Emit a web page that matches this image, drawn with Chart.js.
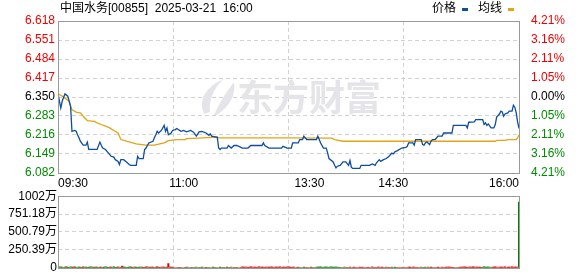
<!DOCTYPE html>
<html>
<head>
<meta charset="utf-8">
<script src="https://cdn.jsdelivr.net/npm/chart.js@4/dist/chart.umd.min.js"></script>
<style>
  html, body { margin: 0; padding: 0; background: #fff; }
  #wrap { position: relative; width: 578px; height: 276px; overflow: hidden;
          font-family: "Liberation Sans", "Noto Sans CJK SC", sans-serif; font-size: 12px; color: #000; }
  #price { position: absolute; left: 0; top: 0; }
  #volume { position: absolute; left: 0; top: 188px; }
  .title { position: absolute; left: 60px; top: 1px; line-height: 14px; white-space: pre; }
  .lg { position: absolute; top: 1px; line-height: 14px; }
  .mk { position: absolute; top: 8px; width: 6px; height: 3px; }
</style>
</head>
<body>
<div id="wrap">
  <canvas id="price" width="578" height="188"></canvas>
  <canvas id="volume" width="578" height="88"></canvas>
  <div class="title">中国水务[00855]  2025-03-21  16:00</div>
  <div class="lg" style="left:432px">价格</div>
  <div class="mk" style="left:462px;background:#0c4da2"></div>
  <div class="lg" style="left:478px">均线</div>
  <div class="mk" style="left:508px;background:#e3a416"></div>
</div>
<script>
// minutes from 09:30 (lunch break removed), 0..330
var priceMin = [0,2,3,5,7,8,9,10,12,13,14,15,16,18,20,21,22,28,30,31,32,34,36,38,40,41,43,44,45,47,49,51,52,56,57,58,61,62,63,65,68,69,70,71,72,74,76,77,78,79,81,82,
    84,85,88,90,92,95,97,99,101,103,106,108,109,110,114,115,116,117,121,122,124,126,128,132,136,138,146,147,148,151,160,161,164,
    167,168,172,173,175,176,178,185,186,187,188,190,192,193,194,197,198,199,200,202,204,206,208,209,210,211,216,217,223,225,227,228,230,231,233,235,237,239,240,241,243,246,249,250,
    251,254,255,256,260,261,262,263,264,266,267,268,270,272,275,276,282,283,292,293,294,298,299,304,305,306,307,308,310,312,313,314,316,317,318,319,320,322,323,325,326,327,328,329,330];
var priceVal = [6.361,6.311,6.335,6.361,6.353,6.335,6.317,6.229,6.232,6.229,6.217,6.206,6.194,6.180,6.180,6.191,6.165,6.165,6.191,6.180,6.170,6.165,6.153,6.141,6.138,6.129,6.123,6.112,6.129,6.129,6.121,6.112,6.109,6.109,6.141,6.133,6.133,6.165,6.170,6.188,6.194,6.206,6.217,6.229,6.223,6.232,6.250,6.229,6.241,6.217,6.223,6.232,
    6.235,6.239,6.229,6.232,6.227,6.232,6.226,6.212,6.227,6.229,6.223,6.215,6.220,6.212,6.208,6.170,6.165,6.170,6.170,6.179,6.170,6.179,6.179,6.170,6.170,6.179,6.179,6.188,6.179,6.170,6.170,6.176,6.170,
    6.170,6.188,6.188,6.200,6.200,6.212,6.200,6.200,6.212,6.200,6.188,6.170,6.170,6.153,6.133,6.121,6.109,6.100,6.106,6.109,6.121,6.121,6.109,6.126,6.102,6.098,6.098,6.109,6.109,6.114,6.109,6.118,6.129,6.123,6.129,6.133,6.141,6.152,6.149,6.156,6.161,6.170,6.172,6.176,
    6.188,6.188,6.180,6.200,6.200,6.182,6.180,6.188,6.192,6.182,6.194,6.200,6.200,6.212,6.212,6.223,6.223,6.250,6.250,6.241,6.261,6.262,6.270,6.270,6.253,6.259,6.250,6.255,6.241,6.241,6.253,6.279,6.290,6.300,6.297,6.282,6.290,6.294,6.300,6.300,6.321,6.314,6.295,6.262,6.239];

var avgMin = [0,3,8,9,10,13,16,18,21,26,28,31,34,37,40,43,45,49,56,63,69,76,79,85,91,92,104,114,115,165,196,198,204,313,314,320,322,328,329,330];
var avgVal = [6.361,6.353,6.335,6.317,6.305,6.297,6.294,6.282,6.267,6.264,6.259,6.253,6.247,6.241,6.232,6.223,6.200,6.194,6.185,6.180,6.180,6.188,6.196,6.200,6.200,6.203,6.206,6.209,6.206,6.206,6.205,6.200,6.194,6.194,6.197,6.197,6.200,6.200,6.206,6.217];

// volume per minute, in 万 shares
var volVal = [
    14,12,9,11,8,10,12,9,8,14, 10,9,12,8,11,9,10,8,12,9, 11,8,10,9,12,8,9,11,10,8,
    9,11,8,10,12,9,8,10,11,9, 12,8,10,9,11,8,25,9,10,8, 11,9,12,8,10,9,11,8,9,10,
    10,8,11,9,12,8,10,9,11,8, 9,12,10,8,11,9,10,8,9,60, 11,9,10,0,0,0,0,8,0,0,
    0,0,9,0,0,8,0,0,0,10, 0,0,0,9,0,0,8,0,0,0, 0,11,0,0,0,0,9,0,0,8,
    0,9,0,0,10,0,0,0,8,0, 0,0,12,10,9,11,8,10,12,9, 11,10,8,9,12,10,11,9,8,10,
    9,11,10,12,8,9,11,10,9,12, 8,10,11,9,10,12,9,8,11,10, 0,0,9,0,0,0,10,0,0,0,
    0,9,0,0,0,11,10,9,12,8, 10,9,11,10,8,12,9,10,11,9, 10,8,0,0,0,9,0,0,0,10,
    0,0,11,0,0,0,9,0,10,0, 0,0,8,0,0,12,0,0,0,9, 10,0,11,0,0,9,0,0,0,10,
    0,10,0,0,0,0,0,0,0,0, 0,9,10,0,11,10,0,0,0,0, 9,0,0,10,0,9,0,11,0,0,
    0,0,10,0,0,9,0,0,10,11, 9,10,0,8,0,0,0,0,10,11, 9,12,10,8,11,9,10,12,9,11,
    10,9,11,8,10,12,9,11,10,9, 0,11,10,12,9,0,10,11,9,10, 12,0,9,11,10,12,9,10,11,10, 920];
// r = up minute, g = down minute
var volSide =
    'ggggrggrgggrrgggrgrgggrgggrggr' +
    'rggrgggrrggrggrrrggrgggrrggrgg' +
    'rrgrrrgrrrgrrgrrrgrrrgrrgrrgrr' +
    'grgrggrgrgggrgrgrgggrgrggrggrg' +
    'rgrrgrrrgrrrrrrrrrrrrrrrrrrrrr' +
    'rrrrrrrrrrrrrrrrrrrrrgrgrrgrrr' +
    'rgrgrggggggggggggggggggrrgrrgr' +
    'rrrrrrrrrrrrrrrrrrrrrrrrgrrrrg' +
    'ggrrrrrrrrrrrrrrrrrrgrrgrgrrrr' +
    'rrrrrrrrrrrrrrrrrrrrrrrrrrrrrr' +
    'rrrrggggggrrrrrrrrrrrrrrrrrrrrg';

var prevClose = 6.35;
var priceTicks = [6.082, 6.149, 6.216, 6.283, 6.350, 6.417, 6.484, 6.551, 6.618];
var pctLabels = ['4.21%', '3.16%', '2.11%', '1.05%', '0.00%', '1.05%', '2.11%', '3.16%', '4.21%'];
var gridMins = [0, 82.5, 165, 247.5, 330];
var xLabelMins = [0, 90, 180, 240, 330];
var xLabelText = ['09:30', '11:00', '13:30', '14:30', '16:00'];
var volMax = 1001.57;
var volTicks = [0, 250.39, 500.79, 751.18, 1001.57];
var volTickLabels = ['0', '250.39万', '500.79万', '751.18万', '1002万'];

var RED = '#f00000', GREEN = '#008c00', GRID = '#d2d2d2';

Chart.defaults.font.family = '"Liberation Sans", "Noto Sans CJK SC", sans-serif';
Chart.defaults.font.size = 12;
Chart.defaults.color = '#000';

function levelColor(v) {
    if (Math.abs(v - prevClose) < 1e-6) return '#000';
    return v > prevClose ? RED : GREEN;
}

// gray box round the plot
var frame = {
    id: 'frame',
    afterDatasetsDraw: function (chart) {
        var a = chart.chartArea, ctx = chart.ctx;
        ctx.save();
        ctx.strokeStyle = '#999';
        ctx.lineWidth = 1;
        ctx.strokeRect(Math.round(a.left) + 0.5, Math.round(a.top) + 0.5,
            Math.round(a.right - a.left), Math.round(a.bottom - a.top));
        ctx.restore();
    }
};

// faint brand watermark behind the lines
var watermark = {
    id: 'watermark',
    beforeDatasetsDraw: function (chart) {
        var ctx = chart.ctx;
        ctx.save();
        ctx.fillStyle = '#e5e5e9';
        ctx.beginPath();
        ctx.moveTo(204, 114);
        ctx.quadraticCurveTo(195, 93, 223, 79);
        ctx.quadraticCurveTo(208, 95, 210, 112);
        ctx.closePath();
        ctx.fill();
        ctx.beginPath();
        ctx.moveTo(214, 115);
        ctx.quadraticCurveTo(222, 97, 234, 82);
        ctx.quadraticCurveTo(237, 101, 217, 115);
        ctx.closePath();
        ctx.fill();
        ctx.font = 'bold 36px "Noto Sans CJK SC", sans-serif';
        ctx.textAlign = 'center';
        ctx.textBaseline = 'middle';
        ctx.fillText('东方财富', 309, 97);
        ctx.restore();
    }
};

var xTickVals = gridMins.concat(xLabelMins.filter(function (m) { return gridMins.indexOf(m) < 0; }))
    .sort(function (a, b) { return a - b; });

new Chart(document.getElementById('price'), {
    type: 'line',
    data: {
        datasets: [{
            label: '价格',
            data: priceMin.map(function (m, i) { return { x: m, y: priceVal[i] }; }),
            borderColor: '#0c4da2',
            borderWidth: 1.3,
            pointRadius: 0,
            tension: 0
        }, {
            label: '均线',
            data: avgMin.map(function (m, i) { return { x: m, y: avgVal[i] }; }),
            borderColor: '#e3a416',
            borderWidth: 1.3,
            pointRadius: 0,
            tension: 0
        }]
    },
    options: {
        responsive: false,
        animation: false,
        layout: { padding: { top: 21, left: 0, right: 0, bottom: 0 } },
        plugins: { legend: { display: false }, tooltip: { enabled: false } },
        scales: {
            x: {
                type: 'linear', min: 0, max: 330,
                afterBuildTicks: function (s) { s.ticks = xTickVals.map(function (v) { return { value: v }; }); },
                afterFit: function (s) { s.height = 15; },
                ticks: {
                    autoSkip: false, maxRotation: 0, align: 'inner', padding: 3,
                    callback: function (v) {
                        var k = xLabelMins.indexOf(v);
                        return k < 0 ? '' : xLabelText[k];
                    }
                },
                grid: {
                    drawTicks: false,
                    color: function (c) { return gridMins.indexOf(c.tick.value) >= 0 ? GRID : 'rgba(0,0,0,0)'; }
                },
                border: { display: false, dash: [4, 3] }
            },
            y: {
                position: 'left', min: 6.082, max: 6.618,
                afterBuildTicks: function (s) { s.ticks = priceTicks.map(function (v) { return { value: v }; }); },
                afterFit: function (s) { s.width = 58; },
                ticks: {
                    padding: 3,
                    callback: function (v) { return v.toFixed(3); },
                    color: function (c) { return levelColor(c.tick.value); }
                },
                grid: { drawTicks: false, color: GRID },
                border: { display: false, dash: [4, 3] }
            },
            y2: {
                position: 'right', min: 6.082, max: 6.618,
                afterBuildTicks: function (s) { s.ticks = priceTicks.map(function (v) { return { value: v }; }); },
                afterFit: function (s) { s.width = 59; },
                ticks: {
                    padding: 4,
                    callback: function (v, i) { return pctLabels[i]; },
                    color: function (c) { return levelColor(c.tick.value); }
                },
                grid: { display: false },
                border: { display: false }
            }
        }
    },
    plugins: [watermark, frame]
});

new Chart(document.getElementById('volume'), {
    type: 'bar',
    data: {
        datasets: [{
            data: volVal.map(function (v, i) { return { x: i, y: v }; }),
            backgroundColor: volVal.map(function (v, i) { return volSide[i] === 'r' ? '#e00000' : '#008000'; }),
            barThickness: 1.4,
            borderWidth: 0
        }]
    },
    options: {
        responsive: false,
        animation: false,
        layout: { padding: { top: 8, left: 0, right: 59, bottom: 6 } },
        plugins: { legend: { display: false }, tooltip: { enabled: false } },
        scales: {
            x: {
                type: 'linear', min: 0, max: 330, offset: false,
                afterBuildTicks: function (s) { s.ticks = gridMins.map(function (v) { return { value: v }; }); },
                afterFit: function (s) { s.height = 0; },
                ticks: { display: false },
                grid: { drawTicks: false, color: GRID, offset: false },
                border: { display: false, dash: [4, 3] }
            },
            y: {
                min: 0, max: volMax,
                afterBuildTicks: function (s) { s.ticks = volTicks.map(function (v) { return { value: v }; }); },
                afterFit: function (s) { s.width = 58; },
                ticks: {
                    padding: 1,
                    callback: function (v, i) { return volTickLabels[i]; }
                },
                grid: { drawTicks: false, color: GRID },
                border: { display: false, dash: [4, 3] }
            }
        }
    },
    plugins: [frame]
});
</script>
</body>
</html>
